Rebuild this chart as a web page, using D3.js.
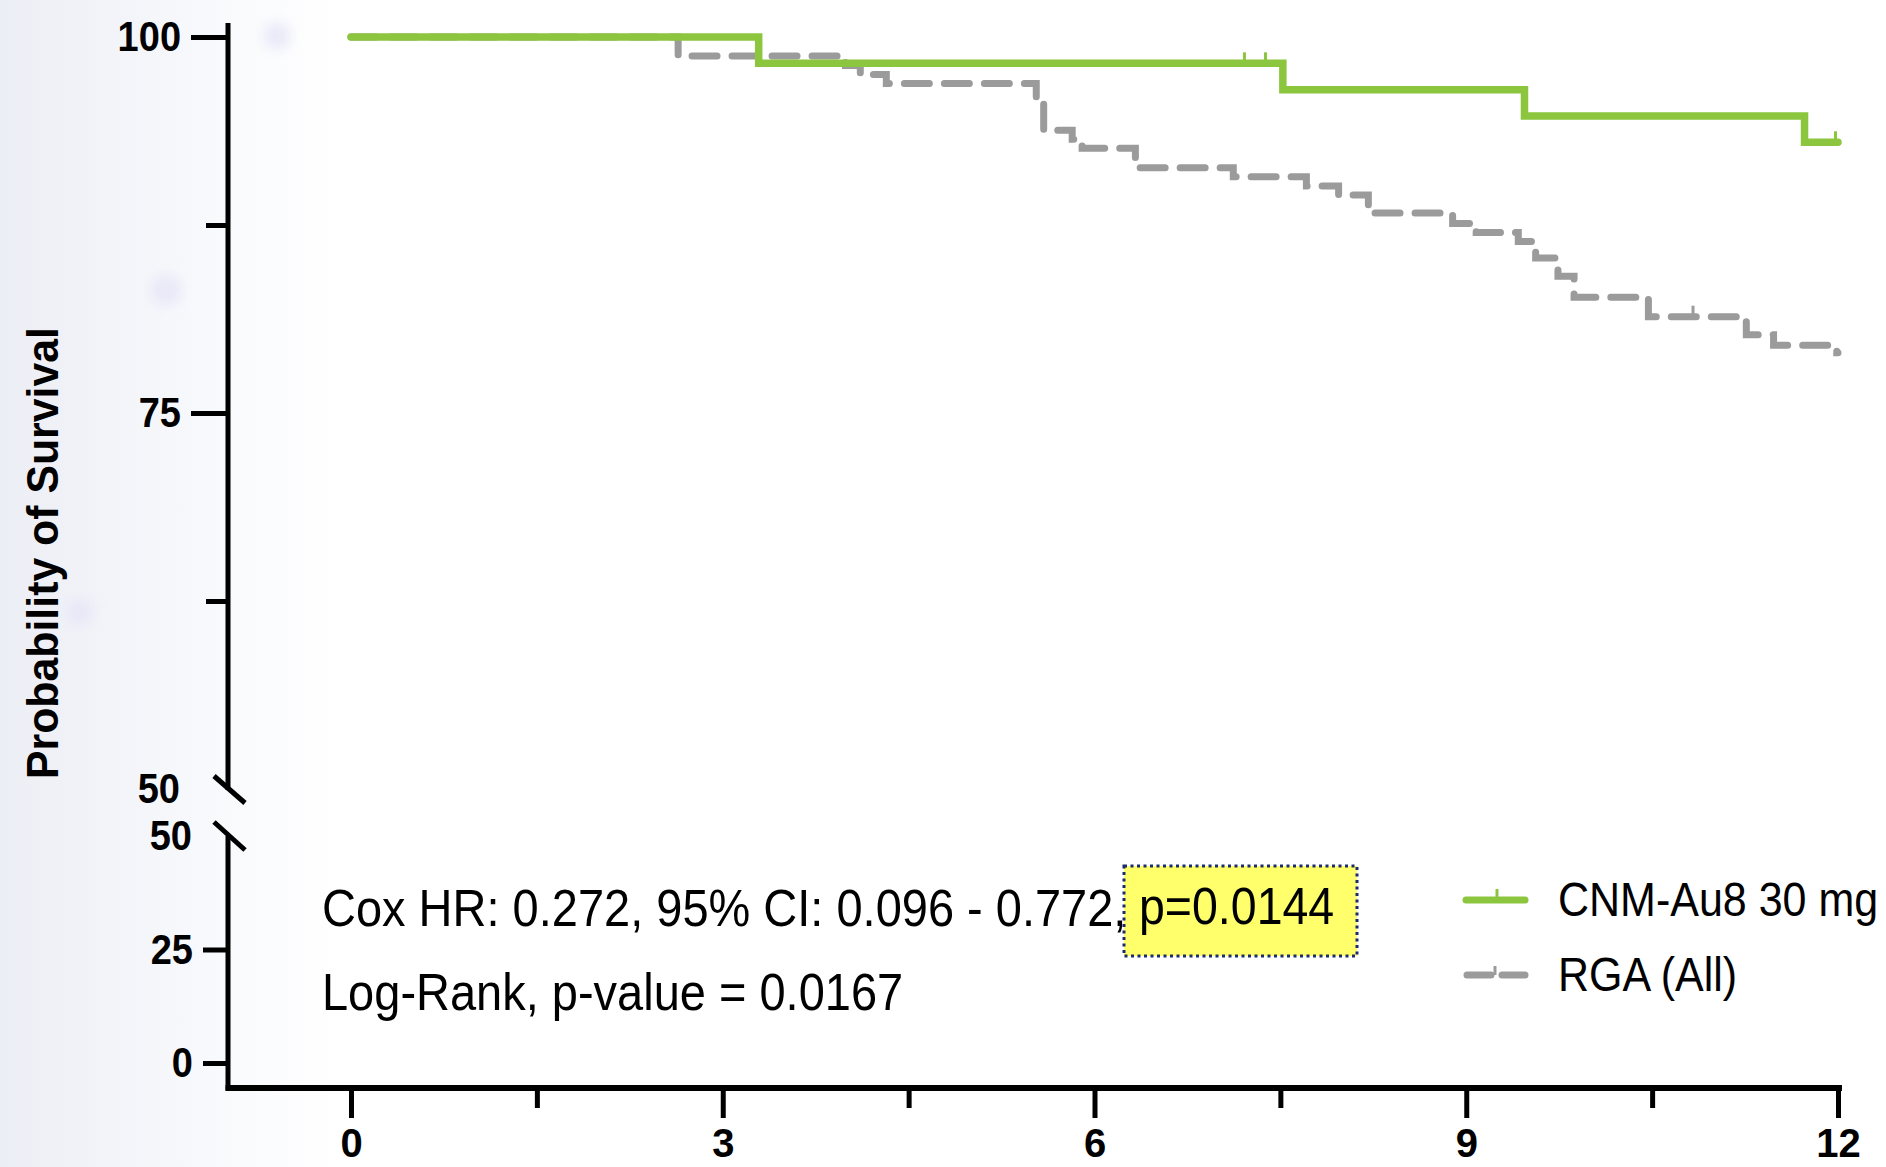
<!DOCTYPE html>
<html>
<head>
<meta charset="utf-8">
<script src="https://cdn.jsdelivr.net/npm/d3@7"></script>
<style>
  html, body { margin: 0; padding: 0; background: #ffffff; }
  svg { display: block; }
  text { font-family: "Liberation Sans", Arial, Helvetica, sans-serif; fill: #000; }
  .tall { transform-box: fill-box; transform-origin: center; transform: scaleY(1.1); }
</style>
</head>
<body>
<svg id="chart" width="1886" height="1167"></svg>
<script>
// ---- Kaplan-Meier data (months, % surviving after each step) ----
const cnmTimes    = [0, 3.29, 7.52, 9.47, 11.73, 12];
const cnmSurvival = [100, 98.25, 96.5, 94.75, 93.0, 93.0];
const cnmCensored = [7.21, 7.38, 11.98];

const rgaTimes    = [0, 2.64, 3.99, 4.11, 4.32, 5.53, 5.59, 5.82, 5.90, 6.33, 7.12, 7.71, 7.97, 8.21,
                     8.89, 9.08, 9.42, 9.56, 9.74, 9.87, 10.47, 11.26, 11.48, 11.99, 12];
const rgaSurvival = [100, 98.74, 98.1, 97.5, 96.9, 96.0, 93.8, 93.2, 92.6, 91.3, 90.7, 90.1, 89.5, 88.3,
                     87.6, 87.0, 86.4, 85.3, 84.1, 82.7, 81.4, 80.2, 79.5, 79.0, 79.0];
const rgaCensored = [10.83];

const xTicks      = [0, 3, 6, 9, 12];
const xMinorTicks = [1.5, 4.5, 7.5, 10.5];
const yUpperTicks = [100, 75];
const yUpperMinor = [87.5, 62.5];
const yLowerTicks = [25, 0];
const yBreakLabels = [50];

const seriesNames = ["CNM-Au8 30 mg", "RGA (All)"];
const statsLine1  = "Cox HR: 0.272, 95% CI: 0.096 - 0.772,";
const statsPValue = "p=0.0144";
const statsLine2  = "Log-Rank, p-value = 0.0167";
const yTitle      = "Probability of Survival";

const GREEN = "#8cc63f";
const GREY  = "#9b9b9b";

const svg = d3.select("#chart");

// soft page background on the left side
const defs = svg.append("defs");
const grad = defs.append("linearGradient").attr("id", "bgfade")
  .attr("x1", 0).attr("x2", 1).attr("y1", 0).attr("y2", 0);
grad.append("stop").attr("offset", "0").attr("stop-color", "#eceef5");
grad.append("stop").attr("offset", "0.6").attr("stop-color", "#f8f9fc");
grad.append("stop").attr("offset", "1").attr("stop-color", "#ffffff");
defs.append("filter").attr("id", "soft").append("feGaussianBlur").attr("stdDeviation", 6);
svg.append("rect").attr("x", 0).attr("y", 0).attr("width", 340).attr("height", 1167).attr("fill", "url(#bgfade)");
const blobs = svg.append("g").attr("filter", "url(#soft)").attr("fill", "#e6e6f7").attr("opacity", 0.8);
[[277, 36, 14], [166, 290, 16], [80, 612, 14]].forEach(([cx, cy, r]) =>
  blobs.append("circle").attr("cx", cx).attr("cy", cy).attr("r", r));

// ---- scales ----
const axisX = 228;
const x = d3.scaleLinear().domain([0, 12]).range([351, 1838]);
const yUp = d3.scaleLinear().domain([50, 100]).range([789, 37]);
const yLo = d3.scaleLinear().domain([0, 50]).range([1063, 836]);
const xAxisY = 1088;

// ---- axes ----
const axStroke = 5;
function styleAxis(g) {
  g.select(".domain").remove();
  g.selectAll(".tick line").attr("stroke", "#000").attr("stroke-width", axStroke);
  g.selectAll(".tick text").attr("font-weight", "bold").attr("class", "tall");
}

// upper y segment
svg.append("line").attr("x1", axisX).attr("x2", axisX).attr("y1", 23).attr("y2", 790)
  .attr("stroke", "#000").attr("stroke-width", axStroke);
svg.append("g").attr("transform", `translate(${axisX},0)`)
  .call(d3.axisLeft(yUp).tickValues(yUpperTicks).tickSize(37).tickPadding(10).tickFormat(d3.format("d")))
  .call(styleAxis)
  .call(g => g.selectAll(".tick text").attr("font-size", 38));
svg.append("g").attr("transform", `translate(${axisX},0)`)
  .call(d3.axisLeft(yUp).tickValues(yUpperMinor).tickSize(22).tickFormat(""))
  .call(styleAxis);
svg.append("g").attr("transform", `translate(${axisX},0)`)
  .call(d3.axisLeft(yUp).tickValues(yBreakLabels).tickSize(0).tickPadding(48).tickFormat(d3.format("d")))
  .call(styleAxis)
  .call(g => g.selectAll(".tick text").attr("font-size", 38));

// lower y segment
svg.append("line").attr("x1", axisX).attr("x2", axisX).attr("y1", 836).attr("y2", xAxisY + 2.5)
  .attr("stroke", "#000").attr("stroke-width", axStroke);
svg.append("g").attr("transform", `translate(${axisX},0)`)
  .call(d3.axisLeft(yLo).tickValues(yLowerTicks).tickSize(25).tickPadding(10).tickFormat(d3.format("d")))
  .call(styleAxis)
  .call(g => g.selectAll(".tick text").attr("font-size", 38));
svg.append("g").attr("transform", `translate(${axisX},0)`)
  .call(d3.axisLeft(yLo).tickValues(yBreakLabels).tickSize(0).tickPadding(36).tickFormat(d3.format("d")))
  .call(styleAxis)
  .call(g => g.selectAll(".tick text").attr("font-size", 38));

// axis break marks
[[yUp(50) - 13, yUp(50) + 14], [yLo(50) - 14, yLo(50) + 14]].forEach(([ya, yb]) =>
  svg.append("line").attr("x1", axisX - 14).attr("y1", ya).attr("x2", axisX + 17).attr("y2", yb)
    .attr("stroke", "#000").attr("stroke-width", axStroke));

// x axis
svg.append("line").attr("x1", axisX - 2.5).attr("x2", 1842).attr("y1", xAxisY).attr("y2", xAxisY)
  .attr("stroke", "#000").attr("stroke-width", axStroke + 1);
svg.append("g").attr("transform", `translate(0,${xAxisY})`)
  .call(d3.axisBottom(x).tickValues(xTicks).tickSize(30).tickPadding(11).tickFormat(d3.format("d")))
  .call(styleAxis)
  .call(g => g.selectAll(".tick text").attr("font-size", 40).attr("class", null));
svg.append("g").attr("transform", `translate(0,${xAxisY})`)
  .call(d3.axisBottom(x).tickValues(xMinorTicks).tickSize(20).tickFormat(""))
  .call(styleAxis);

// y axis title
svg.append("text")
  .attr("transform", `translate(58,553) rotate(-90)`)
  .attr("text-anchor", "middle")
  .attr("font-size", 44).attr("font-weight", "bold")
  .attr("textLength", 452).attr("lengthAdjust", "spacingAndGlyphs")
  .text(yTitle);

// ---- survival curves ----
const step = d3.line().curve(d3.curveStepAfter)
  .x(d => x(d[0])).y(d => yUp(d[1]));

function survivalAt(times, surv, t) {
  let v = surv[0];
  for (let i = 0; i < times.length; i++) if (times[i] <= t) v = surv[i];
  return v;
}

const rgaPts = rgaTimes.map((t, i) => [t, rgaSurvival[i]]);
svg.append("path").attr("d", step(rgaPts))
  .attr("fill", "none").attr("stroke", GREY).attr("stroke-width", 7)
  .attr("stroke-dasharray", "25,15").attr("stroke-linecap", "round").attr("stroke-linejoin", "miter");
svg.append("g").selectAll("line").data(rgaCensored).join("line")
  .attr("x1", d => x(d)).attr("x2", d => x(d))
  .attr("y1", d => yUp(survivalAt(rgaTimes, rgaSurvival, d)))
  .attr("y2", d => yUp(survivalAt(rgaTimes, rgaSurvival, d)) - 11)
  .attr("stroke", GREY).attr("stroke-width", 3);

const cnmPts = cnmTimes.map((t, i) => [t, cnmSurvival[i]]);
svg.append("path").attr("d", step(cnmPts))
  .attr("fill", "none").attr("stroke", GREEN).attr("stroke-width", 7.5)
  .attr("stroke-linecap", "round").attr("stroke-linejoin", "miter");
svg.append("g").selectAll("line").data(cnmCensored).join("line")
  .attr("x1", d => x(d)).attr("x2", d => x(d))
  .attr("y1", d => yUp(survivalAt(cnmTimes, cnmSurvival, d)))
  .attr("y2", d => yUp(survivalAt(cnmTimes, cnmSurvival, d)) - 11)
  .attr("stroke", GREEN).attr("stroke-width", 3);

// ---- statistics annotation ----
svg.append("rect").attr("x", 1124).attr("y", 866).attr("width", 233).attr("height", 90)
  .attr("fill", "#ffff6c").attr("stroke", "#1b2b6b").attr("stroke-width", 3)
  .attr("stroke-dasharray", "3,3.5");
svg.append("text").attr("class", "tall").attr("x", 322).attr("y", 924).attr("font-size", 47).text(statsLine1);
svg.append("text").attr("class", "tall").attr("x", 1139).attr("y", 922).attr("font-size", 46.5).text(statsPValue);
svg.append("text").attr("class", "tall").attr("x", 322).attr("y", 1008).attr("font-size", 47).text(statsLine2);

// ---- legend ----
const lg = svg.append("g");
lg.append("line").attr("x1", 1466).attr("x2", 1525).attr("y1", 900).attr("y2", 900)
  .attr("stroke", GREEN).attr("stroke-width", 7).attr("stroke-linecap", "round");
lg.append("line").attr("x1", 1497).attr("x2", 1497).attr("y1", 900).attr("y2", 889)
  .attr("stroke", GREEN).attr("stroke-width", 3);
lg.append("line").attr("x1", 1467).attr("x2", 1525).attr("y1", 975).attr("y2", 975)
  .attr("stroke", GREY).attr("stroke-width", 7).attr("stroke-linecap", "round")
  .attr("stroke-dasharray", "24,11");
lg.append("line").attr("x1", 1495).attr("x2", 1495).attr("y1", 975).attr("y2", 966)
  .attr("stroke", GREY).attr("stroke-width", 3);
lg.selectAll("text").data(seriesNames).join("text")
  .attr("class", "tall")
  .attr("x", 1558).attr("y", (d, i) => 915 + i * 75)
  .attr("font-size", 43).text(d => d);
</script>
</body>
</html>
